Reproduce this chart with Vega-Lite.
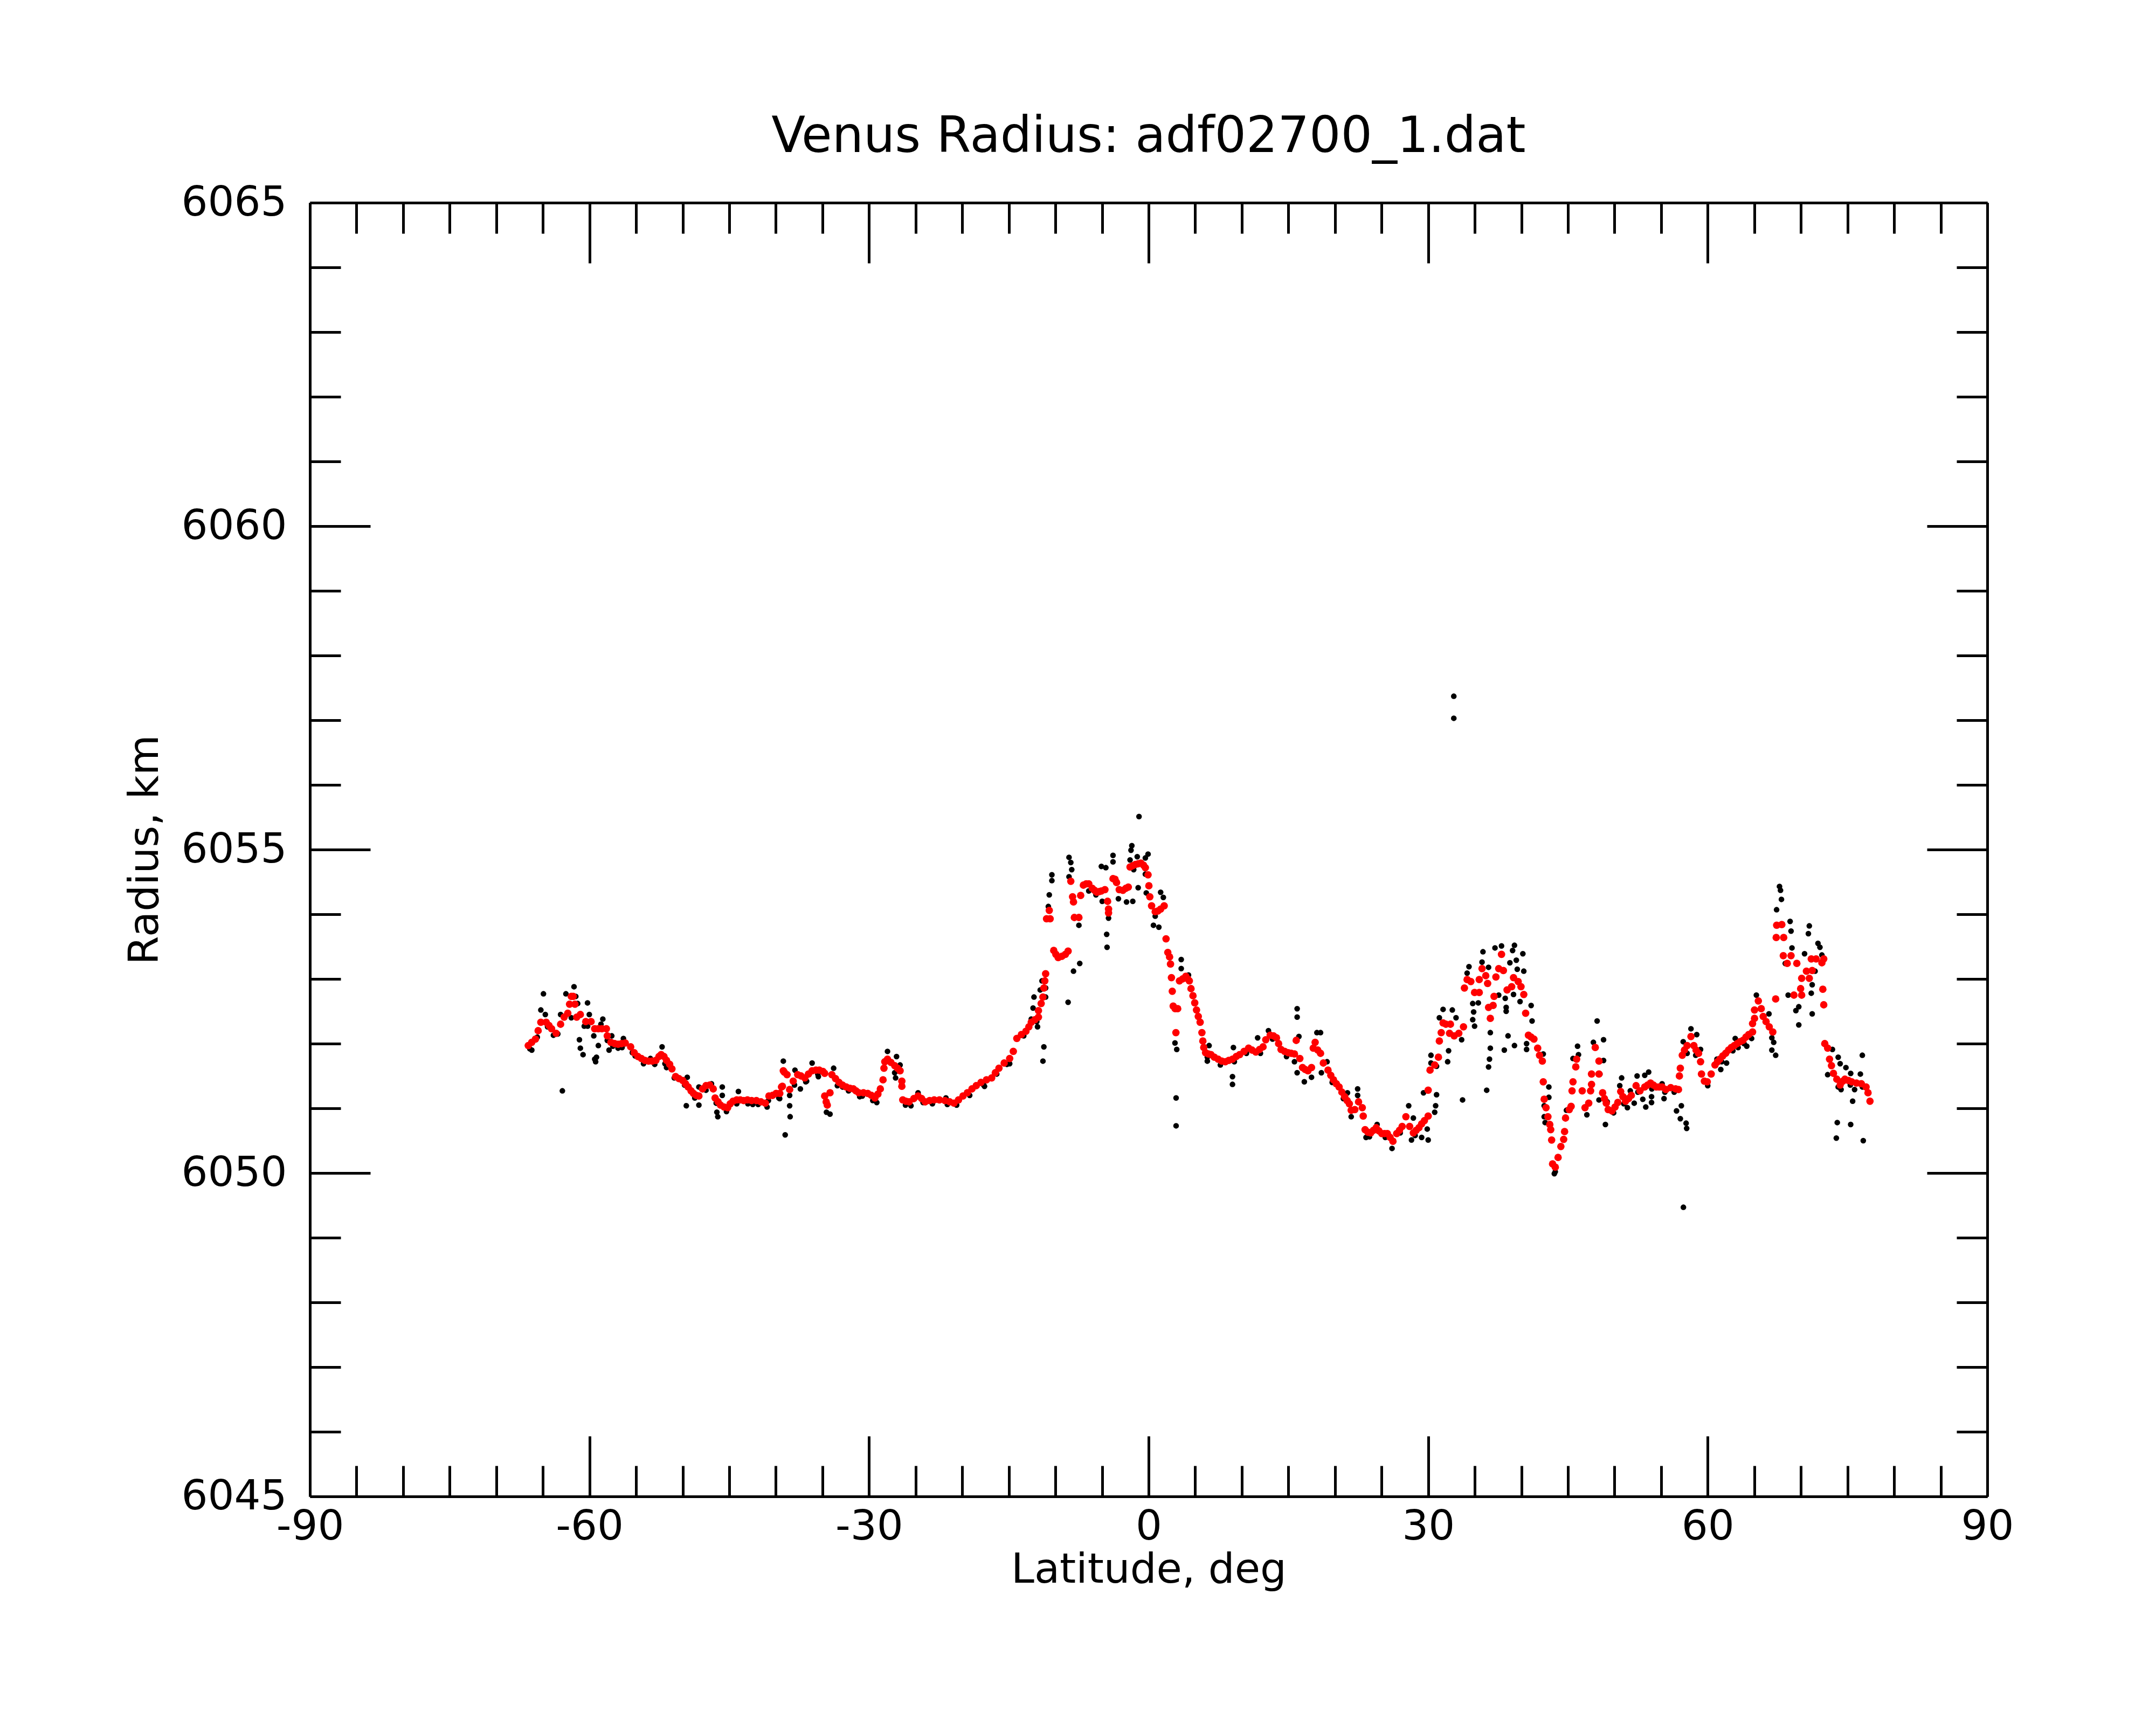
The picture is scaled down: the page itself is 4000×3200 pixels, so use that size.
{
   "$schema": "https://vega.github.io/schema/vega-lite/v6.json",
   "description": "Venus radius versus latitude: raw points in black, smoothed points in red",
   "autosize": "none",
   "width": 3112,
   "height": 2400,
   "padding": {"left": 575, "top": 376, "right": 313, "bottom": 424},
   "background": "white",
   "title": {
      "text": "Venus Radius: adf02700_1.dat",
      "anchor": "middle",
      "baseline": "alphabetic",
      "offset": -37
   },
   "datasets": {
      "raw": [
         {"lat": -64.94, "r": 6052.77}, {"lat": -65.22, "r": 6052.52}, {"lat": -64.74, "r": 6052.45}, {"lat": -66.19, "r": 6051.90},
         {"lat": -63.87, "r": 6052.13}, {"lat": -62.91, "r": 6051.27}, {"lat": -62.53, "r": 6052.77}, {"lat": -61.66, "r": 6052.88},
         {"lat": -61.47, "r": 6052.73}, {"lat": -61.27, "r": 6052.62}, {"lat": -61.95, "r": 6052.40}, {"lat": -63.10, "r": 6052.45},
         {"lat": -60.21, "r": 6052.63}, {"lat": -60.02, "r": 6052.45}, {"lat": -60.56, "r": 6052.27}, {"lat": -61.08, "r": 6052.06},
         {"lat": -60.98, "r": 6051.93}, {"lat": -60.69, "r": 6051.83}, {"lat": -59.54, "r": 6052.12}, {"lat": -59.05, "r": 6051.97},
         {"lat": -58.57, "r": 6052.38}, {"lat": -58.77, "r": 6052.30}, {"lat": -59.44, "r": 6051.76}, {"lat": -59.25, "r": 6051.79},
         {"lat": -59.34, "r": 6051.72}, {"lat": -58.09, "r": 6052.05}, {"lat": -57.90, "r": 6051.90}, {"lat": -57.61, "r": 6052.12},
         {"lat": -56.36, "r": 6052.08}, {"lat": -56.93, "r": 6051.93}, {"lat": -55.10, "r": 6051.81}, {"lat": -53.46, "r": 6051.77},
         {"lat": -52.21, "r": 6051.95}, {"lat": -51.73, "r": 6051.63}, {"lat": -49.51, "r": 6051.48}, {"lat": -49.61, "r": 6051.04},
         {"lat": -48.26, "r": 6051.05}, {"lat": -48.26, "r": 6051.33}, {"lat": -46.91, "r": 6051.38}, {"lat": -46.33, "r": 6050.94},
         {"lat": -46.23, "r": 6050.87}, {"lat": -45.75, "r": 6051.33}, {"lat": -45.75, "r": 6051.20}, {"lat": -44.02, "r": 6051.26},
         {"lat": -42.48, "r": 6051.06}, {"lat": -40.94, "r": 6051.02}, {"lat": -39.59, "r": 6051.15}, {"lat": -39.20, "r": 6051.73},
         {"lat": -39.00, "r": 6050.59}, {"lat": -39.68, "r": 6051.16}, {"lat": -38.52, "r": 6051.20}, {"lat": -38.52, "r": 6051.04},
         {"lat": -38.47, "r": 6050.87}, {"lat": -37.37, "r": 6051.30}, {"lat": -37.95, "r": 6051.59}, {"lat": -36.79, "r": 6051.41},
         {"lat": -36.11, "r": 6051.70}, {"lat": -35.44, "r": 6051.49}, {"lat": -34.57, "r": 6050.94}, {"lat": -34.19, "r": 6050.91},
         {"lat": -33.80, "r": 6051.62}, {"lat": -32.84, "r": 6051.33}, {"lat": -30.72, "r": 6051.19}, {"lat": -29.17, "r": 6051.09},
         {"lat": -28.02, "r": 6051.88}, {"lat": -27.05, "r": 6051.80}, {"lat": -27.25, "r": 6051.55}, {"lat": -27.15, "r": 6051.47},
         {"lat": -26.67, "r": 6051.67}, {"lat": -26.09, "r": 6051.05}, {"lat": -24.74, "r": 6051.24}, {"lat": -21.75, "r": 6051.16},
         {"lat": -17.61, "r": 6051.34}, {"lat": -14.91, "r": 6051.69}, {"lat": -12.59, "r": 6052.38}, {"lat": -11.92, "r": 6052.26},
         {"lat": -12.40, "r": 6052.55}, {"lat": -12.30, "r": 6052.72}, {"lat": -11.63, "r": 6052.83}, {"lat": -11.44, "r": 6052.97},
         {"lat": -11.24, "r": 6051.95}, {"lat": -11.34, "r": 6051.73}, {"lat": -11.05, "r": 6052.86}, {"lat": -11.05, "r": 6052.72},
         {"lat": -10.38, "r": 6054.61}, {"lat": -10.38, "r": 6054.52}, {"lat": -10.66, "r": 6054.30}, {"lat": -10.76, "r": 6054.12},
         {"lat": -8.54, "r": 6054.88}, {"lat": -8.35, "r": 6054.80}, {"lat": -8.25, "r": 6054.69}, {"lat": -8.54, "r": 6054.58},
         {"lat": -8.64, "r": 6052.64}, {"lat": -8.06, "r": 6053.12}, {"lat": -7.39, "r": 6053.24}, {"lat": -7.48, "r": 6053.83},
         {"lat": -5.07, "r": 6054.74}, {"lat": -4.59, "r": 6054.72}, {"lat": -3.82, "r": 6054.91}, {"lat": -3.82, "r": 6054.81},
         {"lat": -4.30, "r": 6053.94}, {"lat": -4.50, "r": 6053.69}, {"lat": -4.46, "r": 6053.49}, {"lat": -4.98, "r": 6054.20},
         {"lat": -3.24, "r": 6054.24}, {"lat": -2.37, "r": 6054.19}, {"lat": -1.70, "r": 6054.20}, {"lat": -1.12, "r": 6054.41},
         {"lat": -6.42, "r": 6054.36}, {"lat": -5.65, "r": 6054.30}, {"lat": -1.80, "r": 6055.06}, {"lat": -1.89, "r": 6054.99},
         {"lat": -1.22, "r": 6054.89}, {"lat": -1.99, "r": 6054.84}, {"lat": -1.03, "r": 6055.51}, {"lat": -0.06, "r": 6054.93},
         {"lat": -0.35, "r": 6054.87}, {"lat": -1.60, "r": 6054.69}, {"lat": -0.35, "r": 6054.62}, {"lat": -0.25, "r": 6054.33},
         {"lat": 1.29, "r": 6054.34}, {"lat": 1.58, "r": 6054.26}, {"lat": 0.52, "r": 6053.83}, {"lat": 1.10, "r": 6053.80},
         {"lat": 0.71, "r": 6053.97}, {"lat": 3.50, "r": 6053.30}, {"lat": 3.50, "r": 6053.16}, {"lat": 4.28, "r": 6053.06},
         {"lat": 2.83, "r": 6052.01}, {"lat": 3.02, "r": 6051.91}, {"lat": 2.95, "r": 6051.16}, {"lat": 2.95, "r": 6050.73},
         {"lat": 6.49, "r": 6051.97}, {"lat": 6.30, "r": 6051.73}, {"lat": 9.10, "r": 6051.94}, {"lat": 9.00, "r": 6051.49},
         {"lat": 9.00, "r": 6051.37}, {"lat": 11.70, "r": 6052.09}, {"lat": 12.86, "r": 6052.20}, {"lat": 15.94, "r": 6052.54},
         {"lat": 15.94, "r": 6052.41}, {"lat": 16.13, "r": 6052.11}, {"lat": 15.65, "r": 6051.72}, {"lat": 15.94, "r": 6051.55},
         {"lat": 16.71, "r": 6051.41}, {"lat": 17.48, "r": 6051.48}, {"lat": 18.06, "r": 6052.17}, {"lat": 18.54, "r": 6051.55},
         {"lat": 18.45, "r": 6052.17}, {"lat": 19.15, "r": 6051.72}, {"lat": 21.34, "r": 6051.24}, {"lat": 22.43, "r": 6051.30},
         {"lat": 22.43, "r": 6051.20}, {"lat": 21.74, "r": 6050.87}, {"lat": 23.33, "r": 6050.55}, {"lat": 24.52, "r": 6050.75},
         {"lat": 26.12, "r": 6050.38}, {"lat": 27.91, "r": 6051.04}, {"lat": 28.41, "r": 6050.85}, {"lat": 28.21, "r": 6050.51},
         {"lat": 29.30, "r": 6050.55}, {"lat": 29.90, "r": 6050.68}, {"lat": 30.00, "r": 6050.51}, {"lat": 29.50, "r": 6051.24},
         {"lat": 30.90, "r": 6051.21}, {"lat": 30.70, "r": 6050.94}, {"lat": 30.80, "r": 6051.04}, {"lat": 30.30, "r": 6051.82},
         {"lat": 30.30, "r": 6051.70}, {"lat": 31.20, "r": 6052.40}, {"lat": 31.60, "r": 6052.53}, {"lat": 32.59, "r": 6052.52},
         {"lat": 32.99, "r": 6052.40}, {"lat": 33.59, "r": 6052.06}, {"lat": 32.19, "r": 6051.89}, {"lat": 32.09, "r": 6051.72},
         {"lat": 33.69, "r": 6051.13}, {"lat": 32.75, "r": 6057.37}, {"lat": 32.75, "r": 6057.03}, {"lat": 34.38, "r": 6053.19},
         {"lat": 34.18, "r": 6053.09}, {"lat": 35.88, "r": 6053.42}, {"lat": 35.78, "r": 6053.26}, {"lat": 36.48, "r": 6053.18},
         {"lat": 35.38, "r": 6052.63}, {"lat": 34.78, "r": 6052.62}, {"lat": 34.88, "r": 6052.49}, {"lat": 34.78, "r": 6052.37},
         {"lat": 34.98, "r": 6052.27}, {"lat": 36.67, "r": 6052.17}, {"lat": 36.67, "r": 6051.93}, {"lat": 36.58, "r": 6051.76},
         {"lat": 36.48, "r": 6051.64}, {"lat": 36.28, "r": 6051.28}, {"lat": 37.17, "r": 6053.48}, {"lat": 37.87, "r": 6053.51},
         {"lat": 39.26, "r": 6053.52}, {"lat": 39.06, "r": 6053.44}, {"lat": 40.16, "r": 6053.39}, {"lat": 38.77, "r": 6053.25},
         {"lat": 39.46, "r": 6053.29}, {"lat": 39.56, "r": 6053.15}, {"lat": 40.26, "r": 6053.12}, {"lat": 37.57, "r": 6052.75},
         {"lat": 38.27, "r": 6052.70}, {"lat": 38.37, "r": 6052.56}, {"lat": 38.37, "r": 6052.50}, {"lat": 39.16, "r": 6052.76},
         {"lat": 39.86, "r": 6052.65}, {"lat": 41.05, "r": 6052.59}, {"lat": 41.15, "r": 6052.35}, {"lat": 38.57, "r": 6052.12},
         {"lat": 39.26, "r": 6051.97}, {"lat": 38.17, "r": 6051.90}, {"lat": 40.56, "r": 6051.91}, {"lat": 40.56, "r": 6052.00},
         {"lat": 42.35, "r": 6051.84}, {"lat": 42.95, "r": 6051.33}, {"lat": 42.95, "r": 6051.17}, {"lat": 42.45, "r": 6051.04},
         {"lat": 42.45, "r": 6050.87}, {"lat": 42.55, "r": 6050.78}, {"lat": 43.54, "r": 6049.99}, {"lat": 43.64, "r": 6050.02},
         {"lat": 44.84, "r": 6050.97}, {"lat": 46.03, "r": 6051.96}, {"lat": 46.13, "r": 6051.83}, {"lat": 45.54, "r": 6051.77},
         {"lat": 48.13, "r": 6052.35}, {"lat": 47.73, "r": 6052.02}, {"lat": 48.82, "r": 6052.06}, {"lat": 48.82, "r": 6051.74},
         {"lat": 48.43, "r": 6051.53}, {"lat": 48.33, "r": 6051.13}, {"lat": 47.03, "r": 6050.90}, {"lat": 49.02, "r": 6050.75},
         {"lat": 49.22, "r": 6051.10}, {"lat": 50.76, "r": 6051.47}, {"lat": 50.56, "r": 6051.35}, {"lat": 51.38, "r": 6051.01},
         {"lat": 51.69, "r": 6051.27}, {"lat": 52.42, "r": 6051.50}, {"lat": 52.11, "r": 6051.08}, {"lat": 53.03, "r": 6051.14},
         {"lat": 53.35, "r": 6051.02}, {"lat": 53.24, "r": 6051.51}, {"lat": 53.66, "r": 6051.56}, {"lat": 53.97, "r": 6051.18},
         {"lat": 53.97, "r": 6051.09}, {"lat": 55.10, "r": 6051.38}, {"lat": 55.31, "r": 6051.15}, {"lat": 56.03, "r": 6051.33},
         {"lat": 56.65, "r": 6050.96}, {"lat": 57.17, "r": 6051.04}, {"lat": 57.06, "r": 6050.84}, {"lat": 57.68, "r": 6050.77},
         {"lat": 57.74, "r": 6050.69}, {"lat": 57.39, "r": 6049.47}, {"lat": 57.37, "r": 6052.03}, {"lat": 58.20, "r": 6052.23},
         {"lat": 58.82, "r": 6052.14}, {"lat": 59.23, "r": 6051.91}, {"lat": 58.71, "r": 6051.82}, {"lat": 57.79, "r": 6051.85},
         {"lat": 60.99, "r": 6051.76}, {"lat": 61.40, "r": 6051.60}, {"lat": 62.02, "r": 6051.70}, {"lat": 62.95, "r": 6052.08},
         {"lat": 63.26, "r": 6051.94}, {"lat": 64.19, "r": 6051.96}, {"lat": 64.71, "r": 6052.08}, {"lat": 65.22, "r": 6052.75},
         {"lat": 66.57, "r": 6052.46}, {"lat": 66.88, "r": 6052.09}, {"lat": 67.08, "r": 6052.02}, {"lat": 66.88, "r": 6051.90},
         {"lat": 67.29, "r": 6051.82}, {"lat": 67.70, "r": 6054.43}, {"lat": 67.81, "r": 6054.37}, {"lat": 67.91, "r": 6054.23},
         {"lat": 67.39, "r": 6054.07}, {"lat": 68.84, "r": 6053.89}, {"lat": 68.94, "r": 6053.74}, {"lat": 69.04, "r": 6053.48},
         {"lat": 70.39, "r": 6053.39}, {"lat": 68.32, "r": 6053.24}, {"lat": 68.63, "r": 6052.75}, {"lat": 69.46, "r": 6052.51},
         {"lat": 69.77, "r": 6052.57}, {"lat": 69.77, "r": 6052.29}, {"lat": 71.11, "r": 6052.78}, {"lat": 71.21, "r": 6052.91},
         {"lat": 71.21, "r": 6052.46}, {"lat": 70.90, "r": 6053.82}, {"lat": 70.80, "r": 6053.70}, {"lat": 71.83, "r": 6053.55},
         {"lat": 72.04, "r": 6053.49}, {"lat": 72.25, "r": 6053.37}, {"lat": 71.52, "r": 6053.12}, {"lat": 73.38, "r": 6051.91},
         {"lat": 74.00, "r": 6051.79}, {"lat": 74.21, "r": 6051.69}, {"lat": 74.83, "r": 6051.63}, {"lat": 75.34, "r": 6051.54},
         {"lat": 72.87, "r": 6051.52}, {"lat": 74.31, "r": 6051.29}, {"lat": 75.76, "r": 6051.29}, {"lat": 76.38, "r": 6051.53},
         {"lat": 76.59, "r": 6051.82}, {"lat": 75.55, "r": 6051.11}, {"lat": 73.90, "r": 6050.78}, {"lat": 73.80, "r": 6050.54},
         {"lat": 75.34, "r": 6050.75}, {"lat": 76.69, "r": 6050.50},
         {"lat": -66.4, "r": 6051.92}, {"lat": -65.6, "r": 6052.10}, {"lat": -64.5, "r": 6052.26}, {"lat": -63.4, "r": 6052.15},
         {"lat": -60.2, "r": 6052.27}, {"lat": -57.5, "r": 6051.96}, {"lat": -56.5, "r": 6051.94}, {"lat": -55.4, "r": 6051.86},
         {"lat": -54.2, "r": 6051.69}, {"lat": -53.0, "r": 6051.68}, {"lat": -51.9, "r": 6051.69}, {"lat": -50.9, "r": 6051.47},
         {"lat": -49.8, "r": 6051.36}, {"lat": -48.7, "r": 6051.16}, {"lat": -47.5, "r": 6051.28}, {"lat": -46.4, "r": 6051.08},
         {"lat": -45.3, "r": 6050.95}, {"lat": -44.2, "r": 6051.07}, {"lat": -43.0, "r": 6051.07}, {"lat": -41.9, "r": 6051.06},
         {"lat": -40.8, "r": 6051.12}, {"lat": -38.0, "r": 6051.36}, {"lat": -36.7, "r": 6051.42}, {"lat": -35.5, "r": 6051.53},
         {"lat": -33.4, "r": 6051.35}, {"lat": -32.2, "r": 6051.27}, {"lat": -31.0, "r": 6051.18}, {"lat": -29.6, "r": 6051.12},
         {"lat": -25.5, "r": 6051.04}, {"lat": -24.2, "r": 6051.09}, {"lat": -23.2, "r": 6051.07}, {"lat": -21.6, "r": 6051.06},
         {"lat": -20.6, "r": 6051.05}, {"lat": -19.2, "r": 6051.20}, {"lat": -17.7, "r": 6051.36}, {"lat": -16.3, "r": 6051.53},
         {"lat": -15.2, "r": 6051.68}, {"lat": -13.4, "r": 6052.12}, {"lat": -12.0, "r": 6052.34}, {"lat": 6.3, "r": 6051.79},
         {"lat": 7.7, "r": 6051.67}, {"lat": 9.2, "r": 6051.72}, {"lat": 10.5, "r": 6051.85}, {"lat": 12.0, "r": 6051.85},
         {"lat": 13.3, "r": 6052.07}, {"lat": 14.8, "r": 6051.80}, {"lat": 19.7, "r": 6051.40}, {"lat": 20.9, "r": 6051.15},
         {"lat": 23.7, "r": 6050.56}, {"lat": 25.4, "r": 6050.55}, {"lat": 27.0, "r": 6050.62}, {"lat": 28.6, "r": 6050.58},
         {"lat": 30.9, "r": 6051.65}, {"lat": 49.9, "r": 6050.93}, {"lat": 51.0, "r": 6051.07}, {"lat": 52.5, "r": 6051.25},
         {"lat": 54.0, "r": 6051.30}, {"lat": 55.4, "r": 6051.25}, {"lat": 56.4, "r": 6051.25}, {"lat": 60.0, "r": 6051.35},
         {"lat": 61.5, "r": 6051.72}, {"lat": 62.7, "r": 6051.89}, {"lat": 63.9, "r": 6052.00}, {"lat": 74.0, "r": 6051.33},
         {"lat": 75.3, "r": 6051.36}, {"lat": 76.6, "r": 6051.33}
      ],
      "smooth": [
         {"lat": -66.57, "r": 6051.97}, {"lat": -66.2, "r": 6052.02}, {"lat": -65.80, "r": 6052.07}, {"lat": -65.51, "r": 6052.20},
         {"lat": -65.22, "r": 6052.33}, {"lat": -64.65, "r": 6052.33}, {"lat": -64.35, "r": 6052.28}, {"lat": -64.07, "r": 6052.23},
         {"lat": -63.58, "r": 6052.16}, {"lat": -63.10, "r": 6052.30}, {"lat": -62.72, "r": 6052.41}, {"lat": -62.33, "r": 6052.47},
         {"lat": -62.14, "r": 6052.61}, {"lat": -61.95, "r": 6052.73}, {"lat": -61.75, "r": 6052.73}, {"lat": -61.56, "r": 6052.61},
         {"lat": -61.37, "r": 6052.41}, {"lat": -60.98, "r": 6052.45}, {"lat": -60.40, "r": 6052.34}, {"lat": -59.83, "r": 6052.34},
         {"lat": -59.44, "r": 6052.23}, {"lat": -59.05, "r": 6052.23}, {"lat": -58.67, "r": 6052.23}, {"lat": -58.19, "r": 6052.23},
         {"lat": -58.09, "r": 6052.12}, {"lat": -57.70, "r": 6052.02}, {"lat": -57.30, "r": 6052.00}, {"lat": -56.93, "r": 6051.99},
         {"lat": -56.55, "r": 6052.00}, {"lat": -56.16, "r": 6052.01}, {"lat": -55.58, "r": 6051.95}, {"lat": -55.20, "r": 6051.86},
         {"lat": -54.80, "r": 6051.80}, {"lat": -54.43, "r": 6051.77}, {"lat": -54.05, "r": 6051.74}, {"lat": -53.66, "r": 6051.73},
         {"lat": -53.27, "r": 6051.73}, {"lat": -52.88, "r": 6051.74}, {"lat": -52.55, "r": 6051.80}, {"lat": -52.31, "r": 6051.83},
         {"lat": -52.00, "r": 6051.80}, {"lat": -51.73, "r": 6051.74}, {"lat": -51.40, "r": 6051.68}, {"lat": -51.15, "r": 6051.61},
         {"lat": -50.76, "r": 6051.49}, {"lat": -50.40, "r": 6051.46}, {"lat": -49.99, "r": 6051.43}, {"lat": -49.70, "r": 6051.38},
         {"lat": -49.41, "r": 6051.33}, {"lat": -49.10, "r": 6051.27}, {"lat": -48.84, "r": 6051.23}, {"lat": -48.55, "r": 6051.20},
         {"lat": -48.26, "r": 6051.19}, {"lat": -47.87, "r": 6051.30}, {"lat": -47.50, "r": 6051.35}, {"lat": -47.10, "r": 6051.36},
         {"lat": -46.72, "r": 6051.30}, {"lat": -46.52, "r": 6051.16}, {"lat": -46.20, "r": 6051.10}, {"lat": -45.94, "r": 6051.05},
         {"lat": -45.55, "r": 6051.02}, {"lat": -45.17, "r": 6051.01}, {"lat": -44.90, "r": 6051.07}, {"lat": -44.60, "r": 6051.11},
         {"lat": -44.20, "r": 6051.13}, {"lat": -43.82, "r": 6051.13}, {"lat": -43.45, "r": 6051.12}, {"lat": -43.05, "r": 6051.13},
         {"lat": -42.60, "r": 6051.12}, {"lat": -42.09, "r": 6051.12}, {"lat": -41.60, "r": 6051.10}, {"lat": -41.13, "r": 6051.08},
         {"lat": -40.74, "r": 6051.19}, {"lat": -40.35, "r": 6051.20}, {"lat": -39.97, "r": 6051.23}, {"lat": -39.58, "r": 6051.23},
         {"lat": -39.39, "r": 6051.33}, {"lat": -39.30, "r": 6051.34}, {"lat": -39.20, "r": 6051.58}, {"lat": -39.10, "r": 6051.56},
         {"lat": -38.80, "r": 6051.52}, {"lat": -38.52, "r": 6051.29}, {"lat": -38.14, "r": 6051.42}, {"lat": -37.66, "r": 6051.52},
         {"lat": -37.30, "r": 6051.50}, {"lat": -36.89, "r": 6051.47}, {"lat": -36.50, "r": 6051.53}, {"lat": -36.11, "r": 6051.58},
         {"lat": -35.70, "r": 6051.59}, {"lat": -35.34, "r": 6051.59}, {"lat": -34.95, "r": 6051.57}, {"lat": -34.76, "r": 6051.54},
         {"lat": -34.76, "r": 6051.19}, {"lat": -34.60, "r": 6051.10}, {"lat": -34.48, "r": 6051.05}, {"lat": -34.19, "r": 6051.24},
         {"lat": -33.99, "r": 6051.52}, {"lat": -33.60, "r": 6051.46}, {"lat": -33.22, "r": 6051.40}, {"lat": -32.85, "r": 6051.36},
         {"lat": -32.45, "r": 6051.33}, {"lat": -32.05, "r": 6051.31}, {"lat": -31.68, "r": 6051.30}, {"lat": -31.40, "r": 6051.27},
         {"lat": -31.10, "r": 6051.24}, {"lat": -30.60, "r": 6051.24}, {"lat": -30.14, "r": 6051.23}, {"lat": -29.75, "r": 6051.20},
         {"lat": -29.37, "r": 6051.16}, {"lat": -29.05, "r": 6051.22}, {"lat": -28.79, "r": 6051.30}, {"lat": -28.50, "r": 6051.44},
         {"lat": -28.40, "r": 6051.62}, {"lat": -28.31, "r": 6051.72}, {"lat": -28.02, "r": 6051.76}, {"lat": -27.65, "r": 6051.71},
         {"lat": -27.25, "r": 6051.66}, {"lat": -26.95, "r": 6051.62}, {"lat": -26.67, "r": 6051.58}, {"lat": -26.48, "r": 6051.42},
         {"lat": -26.48, "r": 6051.34}, {"lat": -26.38, "r": 6051.13}, {"lat": -26.05, "r": 6051.11}, {"lat": -25.70, "r": 6051.10},
         {"lat": -25.20, "r": 6051.15}, {"lat": -24.74, "r": 6051.19}, {"lat": -24.35, "r": 6051.15}, {"lat": -23.97, "r": 6051.10},
         {"lat": -23.50, "r": 6051.12}, {"lat": -23.01, "r": 6051.13}, {"lat": -22.45, "r": 6051.13}, {"lat": -21.85, "r": 6051.12},
         {"lat": -21.35, "r": 6051.10}, {"lat": -20.88, "r": 6051.08}, {"lat": -20.40, "r": 6051.13}, {"lat": -19.92, "r": 6051.19},
         {"lat": -19.45, "r": 6051.24}, {"lat": -18.96, "r": 6051.30}, {"lat": -18.50, "r": 6051.35}, {"lat": -17.99, "r": 6051.40},
         {"lat": -17.40, "r": 6051.44}, {"lat": -16.84, "r": 6051.47}, {"lat": -16.45, "r": 6051.55}, {"lat": -16.06, "r": 6051.62},
         {"lat": -15.50, "r": 6051.70}, {"lat": -14.91, "r": 6051.77}, {"lat": -14.52, "r": 6051.88}, {"lat": -14.14, "r": 6052.08},
         {"lat": -13.65, "r": 6052.14}, {"lat": -13.17, "r": 6052.19}, {"lat": -12.85, "r": 6052.26}, {"lat": -12.59, "r": 6052.33},
         {"lat": -12.20, "r": 6052.37}, {"lat": -11.82, "r": 6052.41}, {"lat": -11.82, "r": 6052.51}, {"lat": -11.53, "r": 6052.62},
         {"lat": -11.34, "r": 6052.72}, {"lat": -11.24, "r": 6052.86}, {"lat": -11.14, "r": 6052.97}, {"lat": -11.05, "r": 6053.08},
         {"lat": -10.95, "r": 6053.93}, {"lat": -10.66, "r": 6054.06}, {"lat": -10.57, "r": 6053.93}, {"lat": -10.18, "r": 6053.44},
         {"lat": -9.95, "r": 6053.38}, {"lat": -9.70, "r": 6053.33}, {"lat": -9.30, "r": 6053.35}, {"lat": -8.93, "r": 6053.38},
         {"lat": -8.64, "r": 6053.43}, {"lat": -8.35, "r": 6054.51}, {"lat": -8.16, "r": 6054.27}, {"lat": -8.06, "r": 6054.19},
         {"lat": -7.97, "r": 6053.95}, {"lat": -7.48, "r": 6053.95}, {"lat": -7.29, "r": 6054.29}, {"lat": -7.00, "r": 6054.45},
         {"lat": -6.70, "r": 6054.47}, {"lat": -6.42, "r": 6054.47}, {"lat": -6.04, "r": 6054.40}, {"lat": -5.80, "r": 6054.37},
         {"lat": -5.56, "r": 6054.34}, {"lat": -5.30, "r": 6054.35}, {"lat": -5.07, "r": 6054.36}, {"lat": -4.69, "r": 6054.38},
         {"lat": -4.40, "r": 6054.20}, {"lat": -4.30, "r": 6054.08}, {"lat": -4.30, "r": 6054.02}, {"lat": -3.82, "r": 6054.55},
         {"lat": -3.60, "r": 6054.54}, {"lat": -3.44, "r": 6054.49}, {"lat": -3.15, "r": 6054.38}, {"lat": -2.76, "r": 6054.37},
         {"lat": -2.45, "r": 6054.40}, {"lat": -2.18, "r": 6054.42}, {"lat": -1.99, "r": 6054.73}, {"lat": -1.70, "r": 6054.75},
         {"lat": -1.41, "r": 6054.77}, {"lat": -1.12, "r": 6054.78}, {"lat": -0.83, "r": 6054.79}, {"lat": -0.55, "r": 6054.76},
         {"lat": -0.35, "r": 6054.72}, {"lat": -0.06, "r": 6054.61}, {"lat": 0.03, "r": 6054.44}, {"lat": 0.13, "r": 6054.27},
         {"lat": 0.32, "r": 6054.13}, {"lat": 0.71, "r": 6054.04}, {"lat": 1.00, "r": 6054.05}, {"lat": 1.29, "r": 6054.08},
         {"lat": 1.67, "r": 6054.13}, {"lat": 1.87, "r": 6053.62}, {"lat": 2.06, "r": 6053.41}, {"lat": 2.25, "r": 6053.34},
         {"lat": 2.35, "r": 6053.23}, {"lat": 2.45, "r": 6053.02}, {"lat": 2.54, "r": 6052.81}, {"lat": 2.64, "r": 6052.58},
         {"lat": 2.85, "r": 6052.54}, {"lat": 3.12, "r": 6052.54}, {"lat": 2.93, "r": 6052.17}, {"lat": 3.31, "r": 6052.97},
         {"lat": 3.65, "r": 6053.00}, {"lat": 3.99, "r": 6053.04}, {"lat": 4.20, "r": 6053.00}, {"lat": 4.37, "r": 6052.97},
         {"lat": 4.55, "r": 6052.85}, {"lat": 4.76, "r": 6052.74}, {"lat": 4.95, "r": 6052.63}, {"lat": 5.14, "r": 6052.52},
         {"lat": 5.33, "r": 6052.42}, {"lat": 5.53, "r": 6052.33}, {"lat": 5.72, "r": 6052.17}, {"lat": 5.82, "r": 6052.04},
         {"lat": 5.92, "r": 6051.94}, {"lat": 6.11, "r": 6051.86}, {"lat": 6.40, "r": 6051.84}, {"lat": 6.69, "r": 6051.83},
         {"lat": 7.05, "r": 6051.79}, {"lat": 7.46, "r": 6051.76}, {"lat": 7.85, "r": 6051.73}, {"lat": 8.23, "r": 6051.72},
         {"lat": 8.60, "r": 6051.74}, {"lat": 9.00, "r": 6051.76}, {"lat": 9.40, "r": 6051.80}, {"lat": 9.77, "r": 6051.83},
         {"lat": 10.25, "r": 6051.88}, {"lat": 10.73, "r": 6051.93}, {"lat": 11.10, "r": 6051.90}, {"lat": 11.51, "r": 6051.87},
         {"lat": 11.90, "r": 6051.91}, {"lat": 12.28, "r": 6051.95}, {"lat": 12.57, "r": 6052.06}, {"lat": 13.05, "r": 6052.13},
         {"lat": 13.40, "r": 6052.12}, {"lat": 13.72, "r": 6052.09}, {"lat": 13.95, "r": 6052.00}, {"lat": 14.21, "r": 6051.91},
         {"lat": 14.60, "r": 6051.88}, {"lat": 14.98, "r": 6051.86}, {"lat": 15.30, "r": 6051.85}, {"lat": 15.65, "r": 6051.84},
         {"lat": 15.84, "r": 6052.05}, {"lat": 16.23, "r": 6051.77}, {"lat": 16.52, "r": 6051.63}, {"lat": 16.80, "r": 6051.60},
         {"lat": 17.10, "r": 6051.58}, {"lat": 17.48, "r": 6051.63}, {"lat": 17.67, "r": 6051.93}, {"lat": 17.87, "r": 6052.02},
         {"lat": 18.15, "r": 6051.90}, {"lat": 18.45, "r": 6051.85}, {"lat": 18.75, "r": 6051.70}, {"lat": 19.25, "r": 6051.59},
         {"lat": 19.55, "r": 6051.51}, {"lat": 19.84, "r": 6051.44}, {"lat": 20.14, "r": 6051.38}, {"lat": 20.44, "r": 6051.33},
         {"lat": 20.74, "r": 6051.25}, {"lat": 21.04, "r": 6051.18}, {"lat": 21.30, "r": 6051.12}, {"lat": 21.54, "r": 6051.07},
         {"lat": 21.74, "r": 6050.97}, {"lat": 22.13, "r": 6050.98}, {"lat": 22.53, "r": 6051.10}, {"lat": 22.93, "r": 6051.01},
         {"lat": 23.03, "r": 6050.88}, {"lat": 23.23, "r": 6050.67}, {"lat": 23.53, "r": 6050.63}, {"lat": 23.83, "r": 6050.62},
         {"lat": 24.12, "r": 6050.66}, {"lat": 24.42, "r": 6050.70}, {"lat": 24.72, "r": 6050.65}, {"lat": 25.02, "r": 6050.61},
         {"lat": 25.32, "r": 6050.61}, {"lat": 25.62, "r": 6050.61}, {"lat": 25.92, "r": 6050.55}, {"lat": 26.22, "r": 6050.49},
         {"lat": 26.62, "r": 6050.61}, {"lat": 26.92, "r": 6050.66}, {"lat": 27.21, "r": 6050.72}, {"lat": 27.61, "r": 6050.87},
         {"lat": 28.01, "r": 6050.72}, {"lat": 28.41, "r": 6050.62}, {"lat": 28.71, "r": 6050.66}, {"lat": 29.01, "r": 6050.70},
         {"lat": 29.30, "r": 6050.76}, {"lat": 29.60, "r": 6050.81}, {"lat": 30.00, "r": 6050.88}, {"lat": 30.00, "r": 6051.28},
         {"lat": 30.20, "r": 6051.59}, {"lat": 30.70, "r": 6051.67}, {"lat": 31.10, "r": 6051.79}, {"lat": 31.20, "r": 6052.04},
         {"lat": 31.40, "r": 6052.17}, {"lat": 31.60, "r": 6052.32}, {"lat": 31.90, "r": 6052.30}, {"lat": 32.39, "r": 6052.30},
         {"lat": 32.29, "r": 6052.16}, {"lat": 32.79, "r": 6052.12}, {"lat": 33.29, "r": 6052.16}, {"lat": 33.79, "r": 6052.26},
         {"lat": 33.89, "r": 6052.86}, {"lat": 34.18, "r": 6052.99}, {"lat": 34.58, "r": 6052.96}, {"lat": 34.98, "r": 6052.79},
         {"lat": 35.48, "r": 6052.79}, {"lat": 35.48, "r": 6052.99}, {"lat": 35.78, "r": 6053.16}, {"lat": 36.18, "r": 6053.05},
         {"lat": 36.38, "r": 6052.93}, {"lat": 36.48, "r": 6052.56}, {"lat": 36.67, "r": 6052.39}, {"lat": 36.97, "r": 6052.59},
         {"lat": 37.07, "r": 6052.73}, {"lat": 37.27, "r": 6053.03}, {"lat": 37.57, "r": 6053.16}, {"lat": 37.87, "r": 6053.38},
         {"lat": 38.07, "r": 6053.13}, {"lat": 38.47, "r": 6052.83}, {"lat": 38.96, "r": 6052.88}, {"lat": 39.16, "r": 6053.02},
         {"lat": 39.66, "r": 6052.96}, {"lat": 39.96, "r": 6052.88}, {"lat": 40.26, "r": 6052.76}, {"lat": 40.46, "r": 6052.47},
         {"lat": 40.76, "r": 6052.13}, {"lat": 41.05, "r": 6052.10}, {"lat": 41.35, "r": 6052.07}, {"lat": 41.75, "r": 6051.93},
         {"lat": 41.95, "r": 6051.82}, {"lat": 42.25, "r": 6051.73}, {"lat": 42.35, "r": 6051.41}, {"lat": 42.45, "r": 6051.14},
         {"lat": 42.65, "r": 6051.01}, {"lat": 42.85, "r": 6050.87}, {"lat": 43.05, "r": 6050.75}, {"lat": 43.15, "r": 6050.67},
         {"lat": 43.25, "r": 6050.51}, {"lat": 43.35, "r": 6050.14}, {"lat": 43.64, "r": 6050.09}, {"lat": 43.94, "r": 6050.24},
         {"lat": 44.24, "r": 6050.41}, {"lat": 44.54, "r": 6050.52}, {"lat": 44.64, "r": 6050.64}, {"lat": 44.74, "r": 6050.85},
         {"lat": 45.14, "r": 6050.98}, {"lat": 45.34, "r": 6051.03}, {"lat": 45.44, "r": 6051.27}, {"lat": 45.54, "r": 6051.41},
         {"lat": 45.84, "r": 6051.64}, {"lat": 45.93, "r": 6051.76}, {"lat": 46.53, "r": 6051.27}, {"lat": 46.83, "r": 6051.01},
         {"lat": 47.23, "r": 6051.08}, {"lat": 47.43, "r": 6051.27}, {"lat": 47.53, "r": 6051.37}, {"lat": 47.53, "r": 6051.53},
         {"lat": 47.93, "r": 6051.94}, {"lat": 48.33, "r": 6051.73}, {"lat": 48.33, "r": 6051.53}, {"lat": 48.72, "r": 6051.24},
         {"lat": 48.92, "r": 6051.15}, {"lat": 49.11, "r": 6051.08}, {"lat": 49.32, "r": 6050.98}, {"lat": 49.73, "r": 6050.96},
         {"lat": 50.05, "r": 6051.02}, {"lat": 50.35, "r": 6051.09}, {"lat": 50.66, "r": 6051.26}, {"lat": 50.90, "r": 6051.18},
         {"lat": 51.18, "r": 6051.11}, {"lat": 51.50, "r": 6051.15}, {"lat": 51.80, "r": 6051.20}, {"lat": 52.31, "r": 6051.35},
         {"lat": 52.73, "r": 6051.27}, {"lat": 53.24, "r": 6051.33}, {"lat": 53.55, "r": 6051.36}, {"lat": 53.86, "r": 6051.39},
         {"lat": 54.17, "r": 6051.36}, {"lat": 54.48, "r": 6051.33}, {"lat": 54.79, "r": 6051.33}, {"lat": 55.10, "r": 6051.33},
         {"lat": 55.51, "r": 6051.29}, {"lat": 56.03, "r": 6051.32}, {"lat": 56.55, "r": 6051.30}, {"lat": 56.86, "r": 6051.29},
         {"lat": 56.96, "r": 6051.50}, {"lat": 57.06, "r": 6051.62}, {"lat": 57.27, "r": 6051.82}, {"lat": 57.50, "r": 6051.90},
         {"lat": 57.79, "r": 6051.97}, {"lat": 58.20, "r": 6052.11}, {"lat": 58.51, "r": 6051.97}, {"lat": 58.75, "r": 6051.90},
         {"lat": 59.02, "r": 6051.85}, {"lat": 59.23, "r": 6051.72}, {"lat": 59.33, "r": 6051.53}, {"lat": 59.64, "r": 6051.42},
         {"lat": 59.95, "r": 6051.41}, {"lat": 60.37, "r": 6051.53}, {"lat": 60.78, "r": 6051.67}, {"lat": 61.05, "r": 6051.72},
         {"lat": 61.30, "r": 6051.76}, {"lat": 61.61, "r": 6051.81}, {"lat": 61.92, "r": 6051.85}, {"lat": 62.23, "r": 6051.90},
         {"lat": 62.54, "r": 6051.94}, {"lat": 62.85, "r": 6051.97}, {"lat": 63.16, "r": 6052.00}, {"lat": 63.47, "r": 6052.03},
         {"lat": 63.78, "r": 6052.05}, {"lat": 64.09, "r": 6052.10}, {"lat": 64.40, "r": 6052.14}, {"lat": 64.81, "r": 6052.18},
         {"lat": 64.81, "r": 6052.31}, {"lat": 65.02, "r": 6052.39}, {"lat": 65.02, "r": 6052.52}, {"lat": 65.43, "r": 6052.66},
         {"lat": 65.74, "r": 6052.54}, {"lat": 65.95, "r": 6052.42}, {"lat": 66.26, "r": 6052.34}, {"lat": 66.60, "r": 6052.26},
         {"lat": 66.98, "r": 6052.18}, {"lat": 67.29, "r": 6052.69}, {"lat": 67.40, "r": 6053.83}, {"lat": 67.95, "r": 6053.84},
         {"lat": 67.35, "r": 6053.64}, {"lat": 68.15, "r": 6053.64}, {"lat": 68.11, "r": 6053.36}, {"lat": 68.94, "r": 6053.36},
         {"lat": 68.53, "r": 6053.24}, {"lat": 69.56, "r": 6053.24}, {"lat": 69.25, "r": 6052.75}, {"lat": 70.08, "r": 6052.75},
         {"lat": 69.97, "r": 6052.85}, {"lat": 70.08, "r": 6053.01}, {"lat": 70.59, "r": 6053.12}, {"lat": 70.90, "r": 6053.01},
         {"lat": 71.21, "r": 6053.13}, {"lat": 71.11, "r": 6053.31}, {"lat": 71.63, "r": 6053.31}, {"lat": 72.45, "r": 6053.31},
         {"lat": 72.25, "r": 6053.25}, {"lat": 72.35, "r": 6052.84}, {"lat": 72.45, "r": 6052.60}, {"lat": 72.56, "r": 6052.00},
         {"lat": 72.87, "r": 6051.93}, {"lat": 73.07, "r": 6051.76}, {"lat": 73.28, "r": 6051.66}, {"lat": 73.49, "r": 6051.54},
         {"lat": 73.85, "r": 6051.45}, {"lat": 74.21, "r": 6051.36}, {"lat": 74.50, "r": 6051.42}, {"lat": 74.72, "r": 6051.45},
         {"lat": 75.10, "r": 6051.43}, {"lat": 75.45, "r": 6051.41}, {"lat": 75.96, "r": 6051.39}, {"lat": 76.48, "r": 6051.38},
         {"lat": 76.99, "r": 6051.33}, {"lat": 77.20, "r": 6051.24}, {"lat": 77.41, "r": 6051.11}
      ]
   },
   "layer": [
      {
         "data": {"name": "raw"},
         "transform": [{"filter": "datum.lat < 0"}],
         "mark": {"type": "circle", "size": 110, "color": "black", "opacity": 1},
         "encoding": {
            "x": {
               "field": "lat",
               "type": "quantitative",
               "scale": {"domain": [-90, 90], "nice": false, "zero": false},
               "axis": {
                  "orient": "bottom",
                  "values": [-90, -60, -30, 0, 30, 60, 90],
                  "labelExpr": "'' + datum.value",
                  "tickSize": -112,
                  "labelPadding": 130,
                  "title": "Latitude, deg",
                  "titleX": 1556,
                  "titleY": 159,
                  "titleBaseline": "alphabetic",
                  "titleAlign": "center"
               }
            },
            "y": {
               "field": "r",
               "type": "quantitative",
               "scale": {"domain": [6045, 6065], "nice": false, "zero": false},
               "axis": {
                  "orient": "left",
                  "values": [6045, 6050, 6055, 6060, 6065],
                  "labelExpr": "'' + datum.value",
                  "tickSize": -112,
                  "labelPadding": 155,
                  "title": "Radius, km",
                  "titleAngle": -90,
                  "titleX": -283,
                  "titleY": 1200,
                  "titleBaseline": "alphabetic",
                  "titleAlign": "center"
               }
            }
         }
      },
      {
         "data": {"name": "raw"},
         "transform": [{"filter": "datum.lat >= 0"}],
         "mark": {"type": "circle", "size": 110, "color": "black", "opacity": 1},
         "encoding": {
            "x": {
               "field": "lat",
               "type": "quantitative",
               "axis": {
                  "orient": "top",
                  "values": [-90, -60, -30, 0, 30, 60, 90],
                  "tickSize": -112,
                  "labels": false,
                  "title": null
               }
            },
            "y": {
               "field": "r",
               "type": "quantitative",
               "axis": {
                  "orient": "right",
                  "values": [6045, 6050, 6055, 6060, 6065],
                  "tickSize": -112,
                  "labels": false,
                  "title": null
               }
            }
         }
      },
      {
         "data": {"name": "smooth"},
         "transform": [{"filter": "datum.lat < 0"}],
         "mark": {"type": "circle", "size": 190, "color": "#ff0000", "opacity": 1},
         "encoding": {
            "x": {
               "field": "lat",
               "type": "quantitative",
               "axis": {
                  "orient": "bottom",
                  "values": [-85, -80, -75, -70, -65, -55, -50, -45, -40, -35, -25, -20, -15, -10, -5, 5, 10, 15, 20, 25, 35, 40, 45, 50, 55, 65, 70, 75, 80, 85],
                  "tickSize": -57,
                  "domain": false,
                  "labels": false,
                  "title": null
               }
            },
            "y": {
               "field": "r",
               "type": "quantitative",
               "axis": {
                  "orient": "left",
                  "values": [6046, 6047, 6048, 6049, 6051, 6052, 6053, 6054, 6056, 6057, 6058, 6059, 6061, 6062, 6063, 6064],
                  "tickSize": -57,
                  "domain": false,
                  "labels": false,
                  "title": null
               }
            }
         }
      },
      {
         "data": {"name": "smooth"},
         "transform": [{"filter": "datum.lat >= 0"}],
         "mark": {"type": "circle", "size": 190, "color": "#ff0000", "opacity": 1},
         "encoding": {
            "x": {
               "field": "lat",
               "type": "quantitative",
               "axis": {
                  "orient": "top",
                  "values": [-85, -80, -75, -70, -65, -55, -50, -45, -40, -35, -25, -20, -15, -10, -5, 5, 10, 15, 20, 25, 35, 40, 45, 50, 55, 65, 70, 75, 80, 85],
                  "tickSize": -57,
                  "domain": false,
                  "labels": false,
                  "title": null
               }
            },
            "y": {
               "field": "r",
               "type": "quantitative",
               "axis": {
                  "orient": "right",
                  "values": [6046, 6047, 6048, 6049, 6051, 6052, 6053, 6054, 6056, 6057, 6058, 6059, 6061, 6062, 6063, 6064],
                  "tickSize": -57,
                  "domain": false,
                  "labels": false,
                  "title": null
               }
            }
         }
      }
   ],
   "resolve": {"axis": {"x": "independent", "y": "independent"}},
   "config": {
      "font": "DejaVu Sans",
      "title": {
         "font": "DejaVu Sans",
         "fontSize": 92,
         "fontWeight": "normal",
         "color": "black"
      },
      "axis": {
         "grid": false,
         "domainColor": "black",
         "domainWidth": 5,
         "tickColor": "black",
         "tickWidth": 5,
         "labelFont": "DejaVu Sans",
         "labelFontSize": 77,
         "labelColor": "black",
         "labelLimit": 0,
         "labelFlush": false,
         "labelOverlap": false,
         "titleFont": "DejaVu Sans",
         "titleFontSize": 77,
         "titleFontWeight": "normal",
         "titleColor": "black"
      },
      "view": {
         "stroke": null
      }
   }
}
